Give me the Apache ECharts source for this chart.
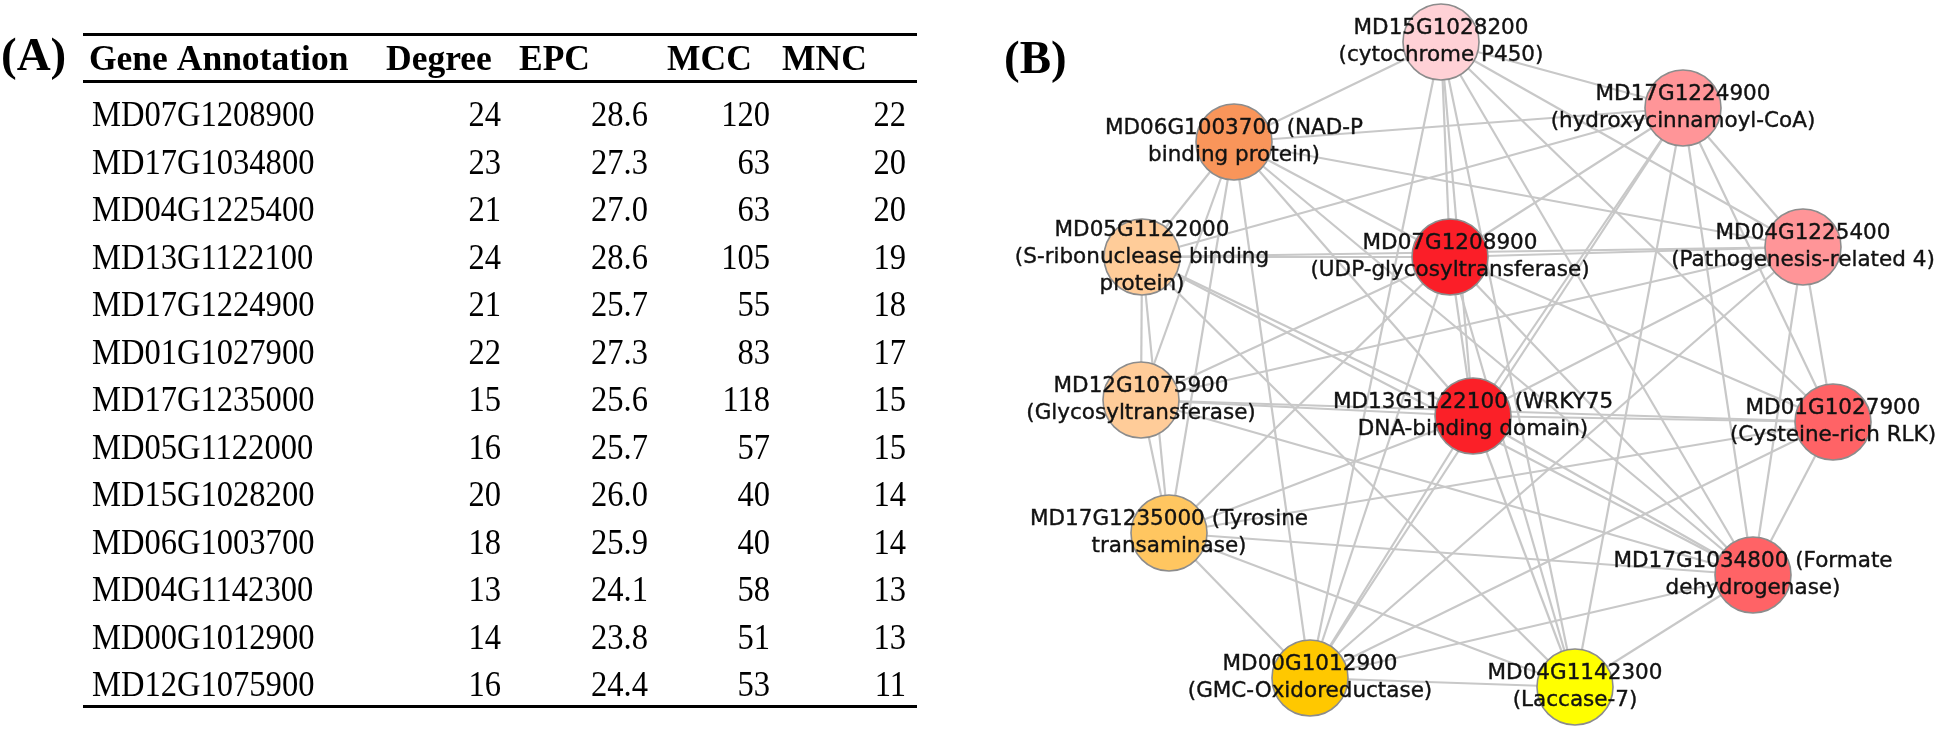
<!DOCTYPE html>
<html>
<head>
<meta charset="utf-8">
<script src="https://cdn.jsdelivr.net/npm/echarts@6/dist/echarts.min.js"></script>
<style>
html,body{margin:0;padding:0;background:#fff;}
#chart{width:1946px;height:730px;}
</style>
</head>
<body>
<div id="chart"></div>
<script>
// ---------- (A) table data ----------
const headers = ['Gene Annotation', 'Degree', 'EPC', 'MCC', 'MNC'];
const genes = ['MD07G1208900','MD17G1034800','MD04G1225400','MD13G1122100','MD17G1224900',
  'MD01G1027900','MD17G1235000','MD05G1122000','MD15G1028200','MD06G1003700',
  'MD04G1142300','MD00G1012900','MD12G1075900'];
const degree = [24, 23, 21, 24, 21, 22, 15, 16, 20, 18, 13, 14, 16];
const epc    = [28.6, 27.3, 27.0, 28.6, 25.7, 27.3, 25.6, 25.7, 26.0, 25.9, 24.1, 23.8, 24.4];
const mcc    = [120, 63, 63, 105, 55, 83, 118, 57, 40, 40, 58, 51, 53];
const mnc    = [22, 20, 20, 19, 18, 17, 15, 15, 14, 14, 13, 13, 11];

// ---------- (B) network data ----------
const nodeIds = ['MD15G1028200','MD17G1224900','MD06G1003700','MD05G1122000','MD07G1208900',
  'MD04G1225400','MD12G1075900','MD13G1122100','MD01G1027900','MD17G1235000',
  'MD17G1034800','MD00G1012900','MD04G1142300'];
const nodeLabels = [
  'MD15G1028200\n(cytochrome P450)',
  'MD17G1224900\n(hydroxycinnamoyl-CoA)',
  'MD06G1003700 (NAD-P\nbinding protein)',
  'MD05G1122000\n(S-ribonuclease binding\nprotein)',
  'MD07G1208900\n(UDP-glycosyltransferase)',
  'MD04G1225400\n(Pathogenesis-related 4)',
  'MD12G1075900\n(Glycosyltransferase)',
  'MD13G1122100 (WRKY75\nDNA-binding domain)',
  'MD01G1027900\n(Cysteine-rich RLK)',
  'MD17G1235000 (Tyrosine\ntransaminase)',
  'MD17G1034800 (Formate\ndehydrogenase)',
  'MD00G1012900\n(GMC-Oxidoreductase)',
  'MD04G1142300\n(Laccase-7)'
];
// node layout coordinates
const nodeX = [1441, 1683, 1234, 1142, 1450, 1803, 1141, 1473, 1833, 1169, 1753, 1310, 1575];
const nodeY = [42, 108, 142, 257, 257, 247, 400, 416, 422, 533, 575, 678, 687];
const nodeColors = ['#ffd1d6','#ff9598','#f9955a','#ffcc99','#fb1e28','#ff9598','#ffcc99',
  '#fb2028','#ff6366','#ffc660','#ff6366','#ffc800','#ffff00'];
const links = [
  [4,0],[4,1],[4,2],[4,3],[4,5],[4,6],[4,7],[4,8],[4,9],[4,10],[4,11],[4,12],
  [7,0],[7,1],[7,2],[7,3],[7,5],[7,6],[7,8],[7,9],[7,10],[7,11],[7,12],
  [0,1],[0,2],[0,5],[0,8],[0,10],[0,11],[0,12],
  [1,2],[1,3],[1,5],[1,8],[1,10],[1,11],[1,12],
  [2,3],[2,5],[2,6],[2,9],[2,11],[2,10],
  [3,5],[3,6],[3,9],[3,10],[3,12],
  [5,6],[5,8],[5,10],[5,11],
  [6,8],[6,9],[6,10],
  [8,9],[8,10],[8,11],
  [9,10],[9,11],[9,12],
  [10,11],[10,12],
  [11,12]
];

// ---------- layout constants ----------
const colAnchor = [92, 501, 648, 770, 906];   // px (x axis of table grid is 1:1 px)
const colAlign  = ['left', 'right', 'right', 'right', 'right'];
const headerX   = [89, 386, 519, 667, 782];
const ruleX0 = 83, ruleX1 = 917;
const cellScaleX = 0.93;

function cellText(col, row) {
  if (col === 0) return genes[row];
  if (col === 1) return String(degree[row]);
  if (col === 2) return epc[row].toFixed(1);
  if (col === 3) return String(mcc[row]);
  return String(mnc[row]);
}

const cellData = [];
for (let r = 0; r < genes.length; r++) {
  for (let c = 0; c < 5; c++) cellData.push([colAnchor[c], r, c]);
}

const chart = echarts.init(document.getElementById('chart'), null, {renderer: 'canvas'});

const rule = (y) => ({
  type: 'line', shape: {x1: ruleX0, y1: y, x2: ruleX1, y2: y},
  style: {stroke: '#000', lineWidth: 3}
});

const graphicEls = [
  {type: 'text', x: 1, y: 58, style: {text: '(A)', font: 'bold 47px "Liberation Serif"', fill: '#000', align: 'left', verticalAlign: 'middle', textAlign: 'left', textVerticalAlign: 'middle'}},
  {type: 'text', x: 1004, y: 61, style: {text: '(B)', font: 'bold 47px "Liberation Serif"', fill: '#000', align: 'left', verticalAlign: 'middle', textAlign: 'left', textVerticalAlign: 'middle'}},
  rule(34.5), rule(81.5), rule(706.5)
];
headers.forEach((h, i) => {
  graphicEls.push({type: 'text', x: headerX[i], y: 61,
    style: {text: h, font: 'bold 35.5px "Liberation Serif"', fill: '#000', align: 'left', verticalAlign: 'middle', textAlign: 'left', textVerticalAlign: 'middle'}});
});

const option = {
  animation: false,
  backgroundColor: '#ffffff',
  grid: [
    {left: 0, top: 93.5, width: 1000, height: 617.5},
    {left: 0, top: 0, width: 1946, height: 730}
  ],
  xAxis: [
    {gridIndex: 0, type: 'value', min: 0, max: 1000, show: false},
    {gridIndex: 1, type: 'value', min: 0, max: 1946, show: false}
  ],
  yAxis: [
    {gridIndex: 0, type: 'category', data: genes, inverse: true, show: false},
    {gridIndex: 1, type: 'value', min: 0, max: 730, inverse: true, show: false}
  ],
  graphic: graphicEls,
  series: [
    {
      type: 'custom',
      xAxisIndex: 0, yAxisIndex: 0,
      data: cellData,
      encode: {x: 0, y: 1},
      silent: true,
      renderItem: function (params, api) {
        const c = api.value(2);
        const r = api.value(1);
        const p = api.coord([api.value(0), r]);
        return {
          type: 'text', x: p[0], y: p[1], scaleX: cellScaleX, scaleY: 1,
          style: {
            text: cellText(c, r), font: '35px "Liberation Serif"', fill: '#000',
            align: colAlign[c], verticalAlign: 'middle',
            textAlign: colAlign[c], textVerticalAlign: 'middle'
          }
        };
      }
    },
    {
      type: 'graph',
      coordinateSystem: 'cartesian2d',
      xAxisIndex: 1, yAxisIndex: 1,
      symbol: 'circle',
      symbolSize: 76,
      silent: true,
      emphasis: {disabled: true},
      itemStyle: {borderColor: '#8c8c8c', borderWidth: 1.6},
      lineStyle: {color: '#c8c8c8', width: 2.2, opacity: 1, curveness: 0},
      label: {
        show: true, position: 'inside',
        formatter: (p) => nodeLabels[p.dataIndex],
        fontFamily: 'DejaVu Sans', fontSize: 21.5, lineHeight: 27,
        color: '#111', align: 'center',
        textBorderColor: '#222', textBorderWidth: 0.4
      },
      data: nodeIds.map((id, i) => ({
        name: id, value: [nodeX[i], nodeY[i]],
        itemStyle: {color: nodeColors[i]}
      })),
      links: links.map(([s, t]) => ({source: nodeIds[s], target: nodeIds[t]}))
    }
  ]
};
chart.setOption(option);
</script>
</body>
</html>
